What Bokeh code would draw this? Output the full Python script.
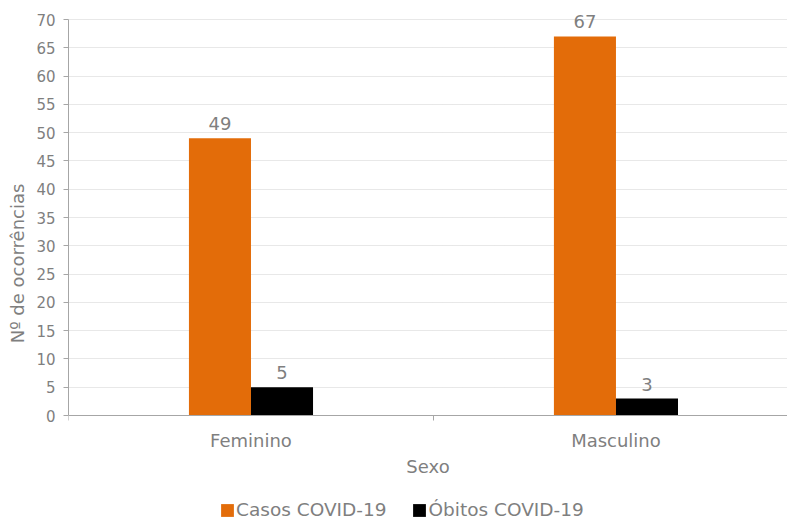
from bokeh.plotting import figure
from bokeh.models import (Range1d, FixedTicker, ColumnDataSource, LabelSet, Legend,
                          LegendItem, CustomJSTickFormatter)
from bokeh.core.properties import value
from bokeh.embed import file_html
from bokeh.resources import INLINE

# ---- data ----
categories = ["Feminino", "Masculino"]
casos = [49, 67]
obitos = [5, 3]
series_names = ["Casos COVID-19", "Óbitos COVID-19"]
y_ticks = list(range(0, 75, 5))
x_title = "Sexo"
y_title = "Nº de ocorrências"

# ---- style ----
FONT = "DejaVu Sans"
GREY = "#7F7F7F"
AXIS = "#A6A6A6"
GRID = "#D0D0D0"
ORANGE = "#E36C09"
BLACK = "#000000"

Y_MAX = y_ticks[-1]
PX_PER_UNIT = 396 / Y_MAX      # 0..70 spans 396 px
FRAME_TOP_PAD = 14             # px above the 70 line (room for value labels)
FRAME_BOTTOM_PAD = 106         # px below the 0 line (x labels, title, legend)
FRAME_H = 396 + FRAME_TOP_PAD + FRAME_BOTTOM_PAD
y_start = -FRAME_BOTTOM_PAD / PX_PER_UNIT
y_end = Y_MAX + FRAME_TOP_PAD / PX_PER_UNIT

centers = [i + 0.5 for i in range(len(categories))]
bw = 0.17
src = ColumnDataSource(dict(
    xc=[c - bw / 2 for c in centers],
    xo=[c + bw / 2 for c in centers],
    casos=casos, obitos=obitos,
    casos_lbl=[str(v) for v in casos],
    obitos_lbl=[str(v) for v in obitos],
))

p = figure(frame_width=719, frame_height=FRAME_H, output_backend="svg", toolbar_location=None,
           x_range=Range1d(0, 1.97), y_range=Range1d(y_start, y_end),
           min_border_left=68, min_border_right=0, min_border_top=5, min_border_bottom=0)
p.outline_line_color = None
p.background_fill_color = "white"
p.border_fill_color = "white"

r1 = p.vbar(x="xc", top="casos", width=bw, source=src, fill_color=ORANGE, line_color=None)
r2 = p.vbar(x="xo", top="obitos", width=bw, source=src, fill_color=BLACK, line_color=None)

for col, xcol, lbl in (("casos", "xc", "casos_lbl"), ("obitos", "xo", "obitos_lbl")):
    p.add_layout(LabelSet(x=xcol, y=col, text=lbl, source=src, text_align="center",
                          text_baseline="alphabetic", y_offset=8,
                          text_font=value(FONT), text_font_size=value("18px"),
                          text_color=GREY))

# y axis
ya = p.yaxis[0]
ya.ticker = FixedTicker(ticks=y_ticks)
ya.bounds = (0, Y_MAX)
ya.axis_line_color = AXIS
ya.major_tick_line_color = AXIS
ya.major_tick_out = 5
ya.major_tick_in = 0
ya.minor_tick_line_color = None
ya.major_label_text_font = FONT
ya.major_label_text_font_size = "15px"
ya.major_label_text_color = GREY
ya.major_label_standoff = 8
ya.axis_label = y_title
ya.axis_label_text_font = FONT
ya.axis_label_text_font_size = "18px"
ya.axis_label_text_font_style = "normal"
ya.axis_label_text_color = GREY
ya.axis_label_standoff = 5

# x axis, pinned at y = 0
xa = p.xaxis[0]
xa.fixed_location = 0
xa.ticker = FixedTicker(ticks=centers, minor_ticks=list(range(len(categories) + 1)))
xa.formatter = CustomJSTickFormatter(args=dict(cats=categories),
                                     code="return cats[Math.floor(tick)];")
xa.axis_line_color = AXIS
xa.major_tick_out = 0
xa.major_tick_in = 0
xa.major_tick_line_color = None
xa.minor_tick_line_color = AXIS
xa.minor_tick_out = 5
xa.minor_tick_in = 0
xa.major_label_text_font = FONT
xa.major_label_text_font_size = "18px"
xa.major_label_text_color = GREY
xa.major_label_standoff = 9
xa.axis_label = x_title
xa.axis_label_text_font = FONT
xa.axis_label_text_font_size = "18px"
xa.axis_label_text_font_style = "normal"
xa.axis_label_text_color = GREY
xa.axis_label_standoff = 2

p.xgrid.grid_line_color = None
p.ygrid.grid_line_color = GRID
p.ygrid.grid_line_dash = "1 1"
p.ygrid.ticker = FixedTicker(ticks=y_ticks[1:])

legend = Legend(items=[LegendItem(label=series_names[0], renderers=[r1]),
                       LegendItem(label=series_names[1], renderers=[r2])],
                orientation="horizontal", location=(151, 1),
                label_text_font=FONT, label_text_font_size="18.5px", label_text_color=GREY,
                glyph_width=16, glyph_height=16, label_standoff=1, spacing=25,
                padding=0, margin=0, border_line_color=None, background_fill_alpha=0)
p.add_layout(legend, "center")

open("out.html", "w").write(file_html(p, INLINE))
